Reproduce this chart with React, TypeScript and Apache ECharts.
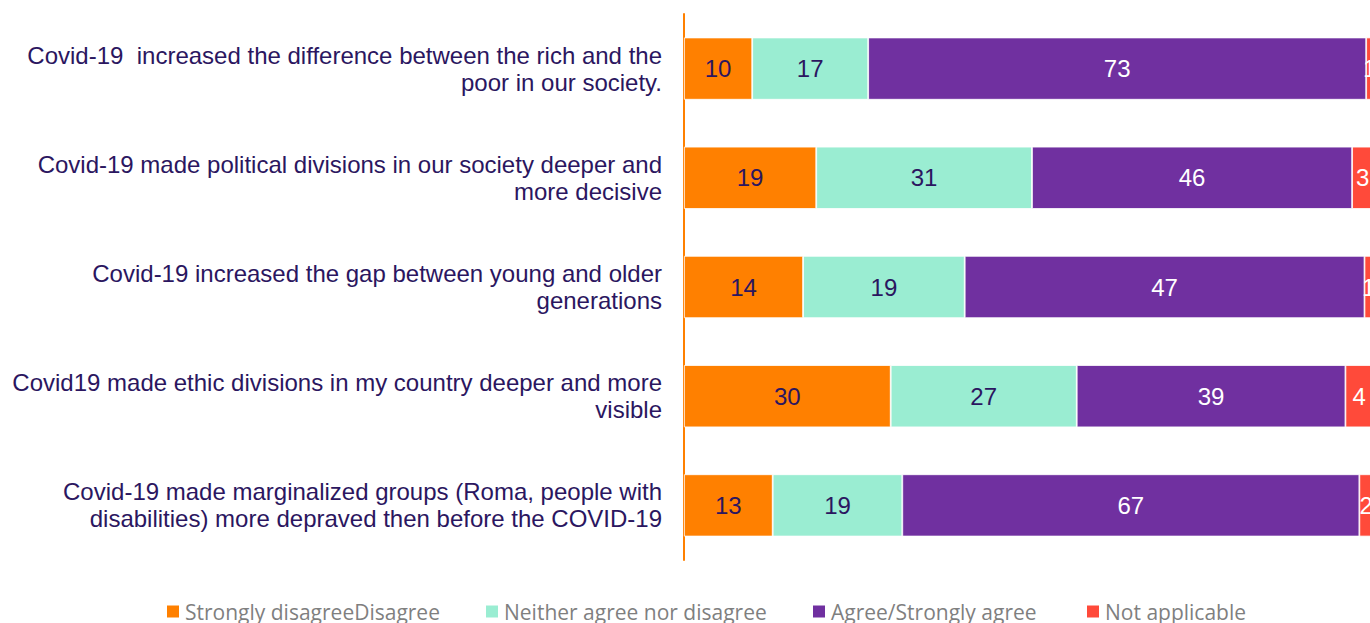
import React, { useEffect, useRef } from "react";
import * as echarts from "echarts";

const categories = [
  "Covid-19  increased the difference between the rich and the\npoor in our society.",
  "Covid-19 made political divisions in our society deeper and\nmore decisive",
  "Covid-19 increased the gap between young and older\ngenerations",
  "Covid19 made ethic divisions in my country deeper and more\nvisible",
  "Covid-19 made marginalized groups (Roma, people with\ndisabilities) more depraved then before the COVID-19",
];

const seriesNames = [
  "Strongly disagreeDisagree",
  "Neither agree nor disagree",
  "Agree/Strongly agree",
  "Not applicable",
];

const disagreeValues = [10, 19, 14, 30, 13];
const neitherValues = [17, 31, 19, 27, 19];
const agreeValues = [73, 46, 47, 39, 67];
const notApplicableValues = [1, 3, 1, 4, 2];

const seriesValues = [disagreeValues, neitherValues, agreeValues, notApplicableValues];
const colors = ["#FF8000", "#9AEDD2", "#7030A0", "#FF4A3A"];
const labelColors = ["#2B1660", "#2B1660", "#FFFFFF", "#FFFFFF"];
const legendLefts = [165, 484, 811, 1085];

export default function App() {
  const ref = useRef<HTMLDivElement>(null);

  useEffect(() => {
    if (!ref.current) return;
    const chart = echarts.init(ref.current, null, { renderer: "svg" });
    const totals = categories.map((_, i) =>
      seriesValues.reduce((s, arr) => s + arr[i], 0)
    );

    const series = seriesValues.map((vals, si) => ({
      name: seriesNames[si],
      type: "bar",
      stack: "total",
      barWidth: "57%",
      itemStyle: { color: colors[si], borderColor: "#FFFFFF", borderWidth: 0.8 },
      label: {
        show: true,
        position: "inside",
        color: labelColors[si],
        fontFamily: "Liberation Sans, Arial, sans-serif",
        fontSize: 24,
        formatter: (p: any) => String(p.data.raw),
      },
      data: vals.map((v, i) => ({ value: (v / totals[i]) * 100, raw: v })),
    }));

    chart.setOption({
      animation: false,
      grid: { left: 684, right: 7, top: 14, bottom: 63 },
      legend: seriesNames.map((n, i) => ({
        data: [n],
        left: legendLefts[i],
        top: 601,
        padding: 0,
        icon: "rect",
        itemWidth: 14,
        itemHeight: 14,
        itemGap: 0,
        selectedMode: false,
        textStyle: {
          color: "#7F7F7F",
          fontFamily: "Open Sans, sans-serif",
          fontSize: 21,
        },
      })),
      xAxis: {
        type: "value",
        min: 0,
        max: 100,
        show: false,
      },
      yAxis: {
        type: "category",
        inverse: true,
        data: categories,
        axisLine: { show: true, lineStyle: { color: "#FF8000", width: 2 } },
        axisTick: { show: false },
        axisLabel: {
          margin: 22,
          color: "#2B1660",
          fontFamily: "Liberation Sans, Arial, sans-serif",
          fontSize: 24,
          lineHeight: 27,
          align: "right",
        },
      },
      series,
    });
    return () => chart.dispose();
  }, []);

  return (
    <div
      style={{
        position: "fixed",
        left: 0,
        top: 0,
        width: 1370,
        height: 623,
        overflow: "hidden",
        background: "#fff",
      }}
    >
      <div ref={ref} style={{ position: "absolute", left: 0, top: 0, width: 1380, height: 623 }} />
    </div>
  );
}
